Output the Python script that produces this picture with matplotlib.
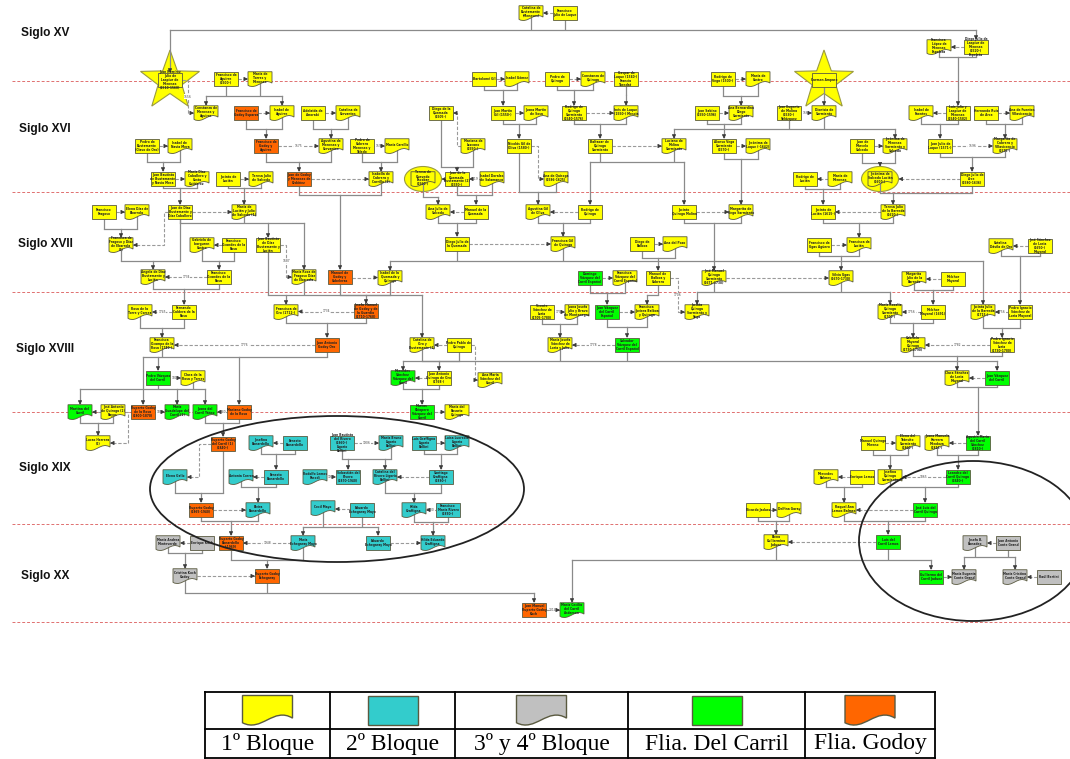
import textwrap
import numpy as np
import matplotlib
matplotlib.use("Agg")
import matplotlib.pyplot as plt
from matplotlib.patches import Rectangle, Ellipse, Polygon, PathPatch
from matplotlib.path import Path

# ---------------------------------------------------------------- data
century_labels = ["Siglo XV", "Siglo XVI", "Siglo XVII", "Siglo XVIII", "Siglo XIX", "Siglo XX"]
century_label_y = [33, 129, 244, 349, 468, 576]
century_line_y = [81, 192, 292, 412, 524, 622]

legend_labels = ["1º Bloque", "2º Bloque", "3º y 4º Bloque", "Flia. Del Carril", "Flia. Godoy"]
legend_groups = ["y", "c", "s", "g", "o"]
legend_shapes = ["d", "r", "d", "r", "d"]

group_colors = {"y": "#FFFF00", "c": "#33CCCC", "s": "#C0C0C0", "g": "#00FF00", "o": "#FF6600"}

node_names = {
    'A1': 'Catalina de Bustamante (Meneses)', 'A2': 'Francisco Julio de Luque',
    'F2': 'Francisca López de Meneses Espeleta', 'F1': 'Diego Julio de Laspiur de Meneses (1520-) Espeleta',
    'T1': 'Juan Ramírez Julio de Laspiur de Meneses (1510-1560)',
    'B1': 'Francisco de Aguirre (1500-)', 'B2': 'María de Torres y Meneses', 'B3': 'Bartolomé Gil',
    'B4': 'Isabel Gómez', 'B5': 'Pedro de Quiroga', 'B6': 'Constanza de Quiroga',
    'B7': 'Gaspar de Luque (1540-) Francia Tuesdat', 'B8': 'Rodrigo de Vega (1500-)', 'B9': 'María de Castro',
    'T2': 'Carmen Amparo',
    'C1': 'Constanza de Meneses y Aguirre', 'C2': 'Francisco de Godoy Esparza', 'C3': 'Isabel de Aguirre',
    'C4': 'Adelaida de Amorabi', 'C5': 'Catalina de Cervantes', 'C6': 'Diego de la Quemada (1505-)',
    'C7': 'Juan Martín Gil (1550-)', 'C8': 'Juana Martín de Sosa',
    'C9': 'Rodrigo de Quiroga Sarmiento (1540-1576)', 'C10': 'Inés de Luque (1550-) Mescia',
    'C11': 'Juan Sabino (1550-1596)', 'C12': 'Ana Bernardina Diego Sarmiento',
    'C13': 'Juan Eugenio de Molina (1530-) Velázquez', 'C14': 'Dionisia de Sarmiento',
    'C15': 'Isabel de Fuentes', 'C16': 'Luis Julio y Laspiur de Meneses (1540-1582)',
    'C17': 'Hernando Ruiz de Arce', 'C18': 'Ana de Fuentes Villavicencio',
    'D1': 'Pedro de Bustamante (Clavo de Oro)', 'D2': 'Isabel de Navia Mera',
    'D3': 'Francisco de Godoy y Aguirre', 'D4': 'Agustina de Meneses y Cervantes',
    'D5': 'Pedro de Cabrera Meneses y Toledo', 'D6': 'María Carrillo', 'D7': 'Mariana de Lezcano (1550-)',
    'D8': 'Nicolás Gil de Oliva (1580-)', 'D9': 'Baltasar de Quiroga Sarmiento',
    'D10': 'Luciano de Molina Sarmiento', 'D11': 'Alonso Vega Sarmiento (1570-)',
    'D12': 'Jerónima de Luque (-1642)', 'D13': 'Juan de Marcelo Salcedo',
    'D14': 'Jerónima de Meneses Sarmiento y Salcedo', 'D15': 'Juan Julio de Luque (1571-)',
    'D16': 'Margarita de Cabrera y Villavicencio (1575-)',
    'E1': 'Juan Bautista de Bustamante y Navia Mera', 'E2': 'María Díaz Caballero y Costa Gutiérrez',
    'E3': 'Jacinto de Lucián', 'E4': 'Teresa Julio de Salcedo', 'E0': 'Juan de Godoy y Meneses de Ordóñez',
    'E6': 'Isabella de Cabrera y Carrillo (2)', 'E7': 'Teresa de Quevedo Escobar (1560-)',
    'E5': 'Juan de la Quemada Bustamante (2) (1590-)', 'E8': 'Isabel Dorales de Salamanca',
    'E9': 'Ana de Quiroga (1586-1625)', 'E10': 'Rodrigo de Lucián', 'E11': 'María de Meneses',
    'E12': 'Jerónima de Salcedo Lucián (1600-)', 'E13': 'Diego Julio de Arce (1580-1636)',
    'G1': 'Francisco Fragoso', 'G2': 'Elena Díaz de Ebarrola',
    'G3': 'Juan de Díaz Bustamante y Díaz Caballero', 'G4': 'María de Lucián y Julio de Salcedo (1)',
    'G5': 'Ana Julio de Salcedo', 'G6': 'Manuel de la Quemada', 'G7': 'Agustina Gil de Oliva',
    'G8': 'Rodrigo de Quiroga', 'G9': 'Jacinto Quiroga Molina', 'G10': 'Margarita de Vega Sarmiento',
    'G11': 'Jacinto de Lucián (1615-)', 'G12': 'Teresa Julio de la Barreda (1620-)',
    'H1': 'Francisca de Fragoso y Díaz de Ebarrola (2)', 'H2': 'Gabriela de Ibarguren Castro',
    'H3': 'Francisco Ocandes de la Rosa', 'H5': 'Juan Bautista de Díaz Bustamante y Lucián',
    'H6': 'Diego Julio de la Quemada', 'H7': 'Francisca Gil de Quiroga', 'H8': 'Diego de Balboa',
    'H9': 'Ana del Pozo', 'H10': 'Francisco de Ugas Agüero', 'H11': 'Francisca de Lucián',
    'H12': 'Catalina Dávila de Oro', 'H13': 'José Sánchez de Loria (1650-) Mayoral',
    'I1': 'Angela de Díaz Bustamante y Lucián', 'I2': 'Francisco Ocandes de la Rosa',
    'I3': 'María Rosa de Fragoso Díaz de Ebarrola', 'I0': 'Manuel de Godoy y Cabeleras',
    'I4': 'Isabel de la Quemada y Quiroga', 'I5': 'Domingo Vázquez del Carril Español',
    'I6': 'Francisca Vázquez del Carril Español', 'I7': 'Manuel de Balboa y Cabrera',
    'I8': 'José Manuel Quiroga Sarmiento (1671-1730)', 'I9': 'Silvia Ugas (1670-1730)',
    'I10': 'Margarita Julio de la Barreda', 'I11': 'Melchor Mayoral',
    'J1': 'Rosa de la Torre y Correa', 'J2': 'Fernando Caldera de la Rosa', 'J3': 'Francisca de Oro (1712-)',
    'J0': 'Josefa Manuel de Godoy y de la Guardia (1710-1760)', 'J4': 'Vicente Sánchez de Loria (1705-1780)',
    'J5': 'Juana Josefa Julio y Bravo de Montenegro', 'J6': 'Juan Vázquez del Carril Español',
    'J7': 'Francisca Javiera Balboa y Quiroga', 'J8': 'Jacinta Quiroga Sarmiento y Vega',
    'J9': 'María Rosalía Quiroga Sarmiento (1700-)', 'J10': 'Melchor Mayoral (1691)',
    'J11': 'Jacinta Julio de la Barreda (1715-)', 'J12': 'Pedro Ignacio Sánchez de Loria Mayoral',
    'K1': 'Francisca Ocampo de la Rosa (1740-)', 'K0': 'Juan Antonio Godoy Oro',
    'K2': 'Catalina de Oro y Bustamante (1)', 'K3': 'Pedro Pablo de Quiroga',
    'K4': 'María Josefa Sánchez de Loria y Julio', 'K5': 'Salvador Vázquez del Carril Español',
    'K6': 'Gabriela Mayoral Quiroga (1730-1790)', 'K7': 'Pedro Ignacio Sánchez de Loria (1730-1780)',
    'L1': 'Pedro Vázquez del Carril', 'L8': 'Clara de la Rosa y Torres',
    'L2': 'Mercedes Sánchez Vázquez del Carril', 'L3': 'Juan Antonio Quiroga de Oro (1768-)',
    'L5': 'Ana María Sánchez del Carril', 'L6': 'Clara Sánchez de Loria Mayoral', 'L7': 'Juan Vázquez del Carril',
    'M1': 'Martina del Carril', 'M2': 'José Antonio de Quiroga (2) Rayos',
    'M3': 'Ruperto Godoy de la Rosa (1800-1870)', 'M4': 'María Guadalupe del Carril (1)',
    'M5': 'Juana del Carril Yáñez', 'M6': 'Mariano Godoy de la Rosa',
    'M7': 'Marcos Chiapero Vázquez del Carril', 'M8': 'María del Rosario Quiroga',
    'N1': 'Lucas Herrera (2)', 'N2': 'Ruperto Godoy del Carril (1) (1840-)', 'N3': 'Josefina Bonardello',
    'N4': 'Ernesto Bonardello', 'N5': 'Juan Bautista del Rivero (1860-) Ligorio Bellini',
    'N6': 'María Bruno Ligorio Bellini', 'N7': 'Luis Graffigna Ligorio Bellini',
    'N8': 'Luisa Lucrecia Ligorio Bellini', 'N9': 'Manuel Quiroga Moreno',
    'N10': 'Elena del Tránsito Sarmiento (1860-)', 'N11': 'Juana Manuela Herrera Mendoza (1815-)',
    'N12': 'Agustín María del Carril Sánchez (1810-)',
    'O1': 'Elena Gallo', 'O2': 'Antonia Correa', 'O3': 'Ernesto Bonardello', 'O4': 'Rodolfo Lemos Parodi',
    'O6': 'Sebastián del Rivero (1870-1940)', 'O7': 'Catalina del Rivero Ligorio Bellini',
    'O8': 'Santiago Graffigna (1880-)', 'O9': 'Mercedes Balmes', 'O10': 'Enrique Lemos',
    'O11': 'Josefina Quiroga Sarmiento', 'O12': 'Leandro del Carril Quiroga (1840-)',
    'P1': 'Ruperto Godoy (1865-1940)', 'P2': 'Elvira Bonardello', 'P3': 'Cecil Mayo',
    'P4': 'Eduardo Echegaray Mayo', 'P5': 'Hilda Graffigna', 'P6': 'Francisco María Rivero (1890-)',
    'P7': 'Ricardo Jaduez', 'P8': 'Delfina Garay', 'P9': 'Raquel Ana Lemos Balmes',
    'P10': 'José Luis del Carril Quiroga',
    'Q1': 'María Andrea Monteverde', 'Q2': 'Enrique Koch', 'Q3': 'Ruperto Godoy Bonardello (-1969)',
    'Q4': 'María Echegaray Mayo', 'Q5': 'Eduardo Echegaray Mayo', 'Q6': 'Hilda Eduardo Graffigna',
    'Q7': 'Elena Guillermina Jaduez', 'Q8': 'Luis del Carril Lemos', 'Q9': 'Josefa B. Bonadeo',
    'Q10': 'Juan Antonio Conte Grand',
    'R1': 'Cristina Koch Godoy', 'R2': 'Ruperto Godoy Echegaray', 'R5': 'Guillermo del Carril Jaduez',
    'R6': 'María Eugenia Conte Grand', 'R7': 'María Cristina Conte Grand', 'R8': 'Raúl Bertini',
    'S3': 'Juan Manuel Ruperto Godoy Koch', 'S4': 'María Cecilia del Carril Anderson',
}

# kind = shape (r = box, d = document) + group letter
node_kind = {
    'A1': 'dy', 'A2': 'ry', 'F2': 'dy', 'F1': 'ry', 'T1': 'ry',
    'B1': 'ry', 'B2': 'dy', 'B3': 'ry', 'B4': 'dy', 'B5': 'ry', 'B6': 'dy', 'B7': 'ry', 'B8': 'ry',
    'B9': 'dy', 'T2': 'ry',
    'C1': 'dy', 'C2': 'ro', 'C3': 'dy', 'C4': 'ry', 'C5': 'dy', 'C6': 'ry', 'C7': 'ry', 'C8': 'dy',
    'C9': 'ry', 'C10': 'dy', 'C11': 'ry', 'C12': 'dy', 'C13': 'ry', 'C14': 'dy', 'C15': 'dy',
    'C16': 'ry', 'C17': 'ry', 'C18': 'dy',
    'D1': 'ry', 'D2': 'dy', 'D3': 'ro', 'D4': 'dy', 'D5': 'ry', 'D6': 'dy', 'D7': 'dy', 'D8': 'ry',
    'D9': 'ry', 'D10': 'dy', 'D11': 'ry', 'D12': 'dy', 'D13': 'ry', 'D14': 'dy', 'D15': 'ry', 'D16': 'dy',
    'E1': 'ry', 'E2': 'dy', 'E3': 'ry', 'E4': 'dy', 'E0': 'ro', 'E6': 'dy', 'E7': 'dy', 'E5': 'ry',
    'E8': 'dy', 'E9': 'dy', 'E10': 'ry', 'E11': 'dy', 'E12': 'dy', 'E13': 'ry',
    'G1': 'ry', 'G2': 'dy', 'G3': 'ry', 'G4': 'dy', 'G5': 'dy', 'G6': 'ry', 'G7': 'dy', 'G8': 'ry',
    'G9': 'ry', 'G10': 'dy', 'G11': 'ry', 'G12': 'dy',
    'H1': 'dy', 'H2': 'dy', 'H3': 'ry', 'H5': 'ry', 'H6': 'ry', 'H7': 'dy', 'H8': 'ry', 'H9': 'dy',
    'H10': 'ry', 'H11': 'dy', 'H12': 'dy', 'H13': 'ry',
    'I1': 'dy', 'I2': 'ry', 'I3': 'dy', 'I0': 'ro', 'I4': 'dy', 'I5': 'rg', 'I6': 'dy', 'I7': 'ry',
    'I8': 'dy', 'I9': 'dy', 'I10': 'dy', 'I11': 'ry',
    'J1': 'dy', 'J2': 'ry', 'J3': 'dy', 'J0': 'ro', 'J4': 'ry', 'J5': 'dy', 'J6': 'rg', 'J7': 'dy',
    'J8': 'dy', 'J9': 'dy', 'J10': 'ry', 'J11': 'dy', 'J12': 'ry',
    'K1': 'dy', 'K0': 'ro', 'K2': 'dy', 'K3': 'ry', 'K4': 'dy', 'K5': 'rg', 'K6': 'dy', 'K7': 'ry',
    'L1': 'rg', 'L8': 'dy', 'L2': 'dg', 'L3': 'ry', 'L5': 'dy', 'L6': 'dy', 'L7': 'rg',
    'M1': 'dg', 'M2': 'dy', 'M3': 'ro', 'M4': 'dg', 'M5': 'dg', 'M6': 'ro', 'M7': 'rg', 'M8': 'dy',
    'N1': 'dy', 'N2': 'ro', 'N3': 'dc', 'N4': 'rc', 'N5': 'rc', 'N6': 'dc', 'N7': 'rc', 'N8': 'dc',
    'N9': 'ry', 'N10': 'dy', 'N11': 'dy', 'N12': 'rg',
    'O1': 'dc', 'O2': 'dc', 'O3': 'rc', 'O4': 'dc', 'O6': 'rc', 'O7': 'dc', 'O8': 'rc', 'O9': 'dy',
    'O10': 'ry', 'O11': 'dy', 'O12': 'rg',
    'P1': 'ro', 'P2': 'dc', 'P3': 'dc', 'P4': 'rc', 'P5': 'dc', 'P6': 'rc', 'P7': 'ry', 'P8': 'dy',
    'P9': 'dy', 'P10': 'rg',
    'Q1': 'ds', 'Q2': 'rs', 'Q3': 'ro', 'Q4': 'dc', 'Q5': 'rc', 'Q6': 'dc', 'Q7': 'dy', 'Q8': 'rg',
    'Q9': 'ds', 'Q10': 'rs',
    'R1': 'ds', 'R2': 'ro', 'R5': 'rg', 'R6': 'ds', 'R7': 'ds', 'R8': 'rs',
    'S3': 'ro', 'S4': 'dg',
}

# layout of the original diagram (pixel grid of the picture)
node_xy = {
    'A1': (531, 13), 'A2': (565, 13), 'F2': (939, 47), 'F1': (976, 47), 'T1': (170, 80),
    'B1': (226, 79), 'B2': (260, 79), 'B3': (484, 79), 'B4': (517, 79), 'B5': (557, 79), 'B6': (593, 79),
    'B7': (626, 79), 'B8': (723, 79), 'B9': (758, 79), 'T2': (824, 80),
    'C1': (206, 113), 'C2': (246, 113), 'C3': (282, 113), 'C4': (313, 113), 'C5': (348, 113),
    'C6': (441, 113), 'C7': (503, 113), 'C8': (536, 113), 'C9': (574, 113), 'C10': (626, 113),
    'C11': (707, 113), 'C12': (741, 113), 'C13': (789, 113), 'C14': (824, 113), 'C15': (921, 113),
    'C16': (958, 113), 'C17': (986, 113), 'C18': (1022, 113),
    'D1': (147, 146), 'D2': (180, 146), 'D3': (266, 146), 'D4': (331, 146), 'D5': (362, 146),
    'D6': (397, 146), 'D7': (473, 146), 'D8': (519, 146), 'D9': (600, 146), 'D10': (674, 146),
    'D11': (724, 146), 'D12': (758, 146), 'D13': (862, 146), 'D14': (895, 146), 'D15': (940, 146),
    'D16': (1005, 146),
    'E1': (163, 179), 'E2': (197, 179), 'E3': (228, 179), 'E4': (261, 179), 'E0': (299, 179),
    'E6': (381, 179), 'E7': (423, 179), 'E5': (457, 179), 'E8': (492, 179), 'E9': (556, 179),
    'E10': (805, 179), 'E11': (840, 179), 'E12': (880, 179), 'E13': (972, 179),
    'G1': (104, 212), 'G2': (137, 212), 'G3': (180, 212), 'G4': (244, 212), 'G5': (438, 212),
    'G6': (476, 212), 'G7': (538, 212), 'G8': (590, 212), 'G9': (684, 212), 'G10': (741, 212),
    'G11': (823, 212), 'G12': (893, 212),
    'H1': (121, 245), 'H2': (202, 245), 'H3': (234, 245), 'H5': (268, 245), 'H6': (457, 244),
    'H7': (563, 244), 'H8': (642, 244), 'H9': (675, 244), 'H10': (819, 245), 'H11': (859, 245),
    'H12': (1001, 246), 'H13': (1040, 246),
    'I1': (153, 277), 'I2': (219, 277), 'I3': (304, 277), 'I0': (340, 277), 'I4': (390, 278),
    'I5': (590, 278), 'I6': (625, 278), 'I7': (658, 278), 'I8': (714, 278), 'I9': (841, 278),
    'I10': (914, 279), 'I11': (953, 279),
    'J1': (140, 312), 'J2': (184, 312), 'J3': (286, 312), 'J0': (366, 311), 'J4': (542, 312),
    'J5': (577, 312), 'J6': (607, 312), 'J7': (647, 312), 'J8': (697, 312), 'J9': (890, 312),
    'J10': (933, 312), 'J11': (983, 312), 'J12': (1020, 312),
    'K1': (162, 345), 'K0': (327, 345), 'K2': (422, 345), 'K3': (459, 345), 'K4': (560, 345),
    'K5': (627, 345), 'K6': (913, 345), 'K7': (1002, 345),
    'L1': (158, 378), 'L8': (193, 378), 'L2': (403, 378), 'L3': (439, 378), 'L5': (490, 380),
    'L6': (957, 378), 'L7': (997, 378),
    'M1': (80, 412), 'M2': (113, 412), 'M3': (143, 412), 'M4': (177, 412), 'M5': (205, 412),
    'M6': (239, 412), 'M7': (422, 412), 'M8': (457, 412),
    'N1': (98, 443), 'N2': (223, 444), 'N3': (261, 443), 'N4': (295, 443), 'N5': (342, 443),
    'N6': (391, 443), 'N7': (424, 443), 'N8': (457, 443), 'N9': (873, 443), 'N10': (908, 443),
    'N11': (937, 443), 'N12': (978, 443),
    'O1': (175, 477), 'O2': (241, 477), 'O3': (276, 477), 'O4': (315, 477), 'O6': (348, 477),
    'O7': (385, 477), 'O8': (441, 477), 'O9': (826, 477), 'O10': (862, 477), 'O11': (890, 477),
    'O12': (958, 477),
    'P1': (201, 510), 'P2': (258, 510), 'P3': (323, 508), 'P4': (362, 510), 'P5': (414, 510),
    'P6': (448, 510), 'P7': (758, 510), 'P8': (789, 510), 'P9': (844, 510), 'P10': (925, 510),
    'Q1': (168, 543), 'Q2': (202, 543), 'Q3': (231, 543), 'Q4': (303, 543), 'Q5': (378, 543),
    'Q6': (433, 543), 'Q7': (776, 542), 'Q8': (888, 542), 'Q9': (975, 543), 'Q10': (1008, 543),
    'R1': (185, 576), 'R2': (267, 576), 'R5': (931, 577), 'R6': (964, 577), 'R7': (1015, 577),
    'R8': (1049, 577),
    'S3': (534, 610), 'S4': (572, 610),
}

star_nodes = ['T1', 'T2']
circled_nodes = ['E7', 'E12']

# marriages: (from, to) -> dashed arrow
marriages = [
    ('A2', 'A1'), ('F1', 'F2'), ('B1', 'B2'), ('B3', 'B4'), ('B5', 'B6'), ('B8', 'B9'),
    ('T1', 'C1'), ('C2', 'C3'), ('C4', 'C5'), ('C7', 'C8'), ('C9', 'C10'), ('C11', 'C12'),
    ('C13', 'C14'), ('C16', 'C15'), ('C17', 'C18'),
    ('D1', 'D2'), ('D3', 'D4'), ('D5', 'D6'), ('D7', 'C6'), ('D9', 'D10'), ('D11', 'D12'),
    ('D13', 'D14'), ('D15', 'D16'),
    ('E1', 'E2'), ('E3', 'E4'), ('E0', 'E6'), ('E5', 'E7'), ('E8', 'E5'), ('D8', 'E9'),
    ('E11', 'E10'), ('E13', 'E12'),
    ('G1', 'G2'), ('G3', 'G4'), ('G3', 'H1'), ('G6', 'G5'), ('G8', 'G7'), ('G9', 'G10'), ('G12', 'G11'),
    ('H3', 'H2'), ('H6', 'H7'), ('H8', 'H9'), ('H10', 'H11'), ('H13', 'H12'), ('H5', 'I3'),
    ('I2', 'I1'), ('I0', 'I4'), ('I5', 'I6'), ('I8', 'I9'), ('I11', 'I10'), ('I7', 'J8'),
    ('J2', 'J1'), ('J0', 'J3'), ('J4', 'J5'), ('J6', 'J7'), ('J10', 'J9'), ('J12', 'J11'),
    ('K0', 'K1'), ('K3', 'K2'), ('K3', 'L5'), ('K5', 'K4'), ('K7', 'K6'),
    ('L1', 'L8'), ('L3', 'L2'), ('L7', 'L6'),
    ('M2', 'M1'), ('M3', 'M4'), ('M6', 'M5'), ('M7', 'M8'), ('M2', 'N1'),
    ('N4', 'N3'), ('N5', 'N6'), ('N7', 'N8'), ('N9', 'N10'), ('N12', 'N11'), ('N2', 'O1'),
    ('O3', 'O2'), ('O4', 'O6'), ('O8', 'O7'), ('O10', 'O9'), ('O12', 'O11'),
    ('P1', 'P2'), ('P4', 'P3'), ('P6', 'P5'), ('P7', 'P8'), ('P10', 'P9'),
    ('Q2', 'Q1'), ('Q4', 'Q3'), ('Q5', 'Q6'), ('Q8', 'Q7'), ('Q10', 'Q9'),
    ('R1', 'R2'), ('R5', 'R6'), ('R8', 'R7'),
    ('S3', 'S4'),
]
marriage_labels = {
    ('T1', 'C1'): '1556', ('C13', 'C14'): '1561', ('D3', 'D4'): '1575', ('D15', 'D16'): '1596',
    ('E8', 'E5'): '1619', ('H5', 'I3'): '1687', ('I2', 'I1'): '1734', ('J2', 'J1'): '1745',
    ('J0', 'J3'): '1734', ('J4', 'J5'): '1735', ('J10', 'J9'): '1756', ('J12', 'J11'): '1756',
    ('K0', 'K1'): '1776', ('K5', 'K4'): '1778', ('K7', 'K6'): '1782', ('L1', 'L8'): '1800',
    ('M3', 'M4'): '1834', ('M6', 'M5'): '1840', ('N5', 'N6'): '1906', ('O4', 'O6'): '1901',
    ('O12', 'O11'): '1865', ('P6', 'P5'): '1930', ('Q4', 'Q3'): '1948', ('S3', 'S4'): '2014',
    ('D5', 'D6'): '1590', ('I7', 'J8'): '1706',
}
marriage_route_x = {('G3', 'H1'): 164, ('M2', 'N1'): 128}

# families: (parents, children, level of the joining line)
families = [
    (('A1', 'A2'), ('T1', 'F1'), 30), (('F1', 'F2'), ('C16',), 57),
    (('B1', 'B2'), ('C1', 'C3'), 96), (('B3', 'B4'), ('C7',), 90), (('B5', 'B6'), ('C9',), 90),
    (('B7',), ('C10',), 95), (('B8', 'B9'), ('C12',), 96), (('T2',), ('C14',), 97),
    (('C2', 'C3'), ('D3',), 129), (('C4', 'C5'), ('D4',), 129), (('C7', 'C8'), ('D8',), 124),
    (('C9', 'C10'), ('D9',), 124), (('C11', 'C12'), ('D11',), 124), (('C13', 'C14'), ('D10', 'D14'), 129),
    (('C15', 'C16'), ('D15',), 124), (('C17', 'C18'), ('D16',), 124),
    (('C6', 'D7'), ('E5',), 167), (('D1', 'D2'), ('E1',), 162), (('D3', 'D4'), ('E0',), 162),
    (('D5', 'D6'), ('E6',), 162), (('D9', 'D10'), ('G8', 'G9'), 162), (('D11', 'D12'), ('G10',), 159),
    (('D13', 'D14'), ('E12',), 163), (('D15', 'D16'), ('E13',), 157), (('D8', 'E9'), ('G7',), 192),
    (('E1', 'E2'), ('G3',), 188), (('E3', 'E4'), ('G4',), 188), (('E0', 'E6'), ('I0',), 195),
    (('E5', 'E8'), ('G6',), 195), (('E7',), ('G5',), 197), (('E10', 'E11'), ('G11',), 189),
    (('E12', 'E13'), ('G12',), 193),
    (('G1', 'G2'), ('H1',), 229), (('G3', 'H1'), ('I1',), 261), (('G3', 'G4'), ('H5', 'I3'), 223),
    (('G5', 'G6'), ('H6',), 223), (('G7', 'G8'), ('H7',), 223), (('G9', 'G10'), ('I8',), 223),
    (('G11', 'G12'), ('H11',), 223),
    (('H2', 'H3'), ('I2',), 261), (('H6', 'H7'), ('I4', 'J11'), 261), (('H8', 'H9'), ('I7',), 258),
    (('H10', 'H11'), ('I9',), 256), (('H12', 'H13'), ('J12',), 256),
    (('I1', 'I2'), ('J2',), 289), (('H5', 'I3'), ('J3', 'K2'), 295), (('I0', 'I4'), ('J0',), 295),
    (('I5', 'I6'), ('J6',), 293), (('I7',), ('J7',), 295), (('I8', 'I9'), ('J8', 'J9'), 292),
    (('I10', 'I11'), ('J10',), 290),
    (('J1', 'J2'), ('K1',), 328), (('J0', 'J3'), ('K0',), 323), (('J4', 'J5'), ('K4',), 324),
    (('J6', 'J7'), ('K5',), 327), (('J9', 'J10'), ('K6',), 323), (('J11', 'J12'), ('K7',), 328),
    (('K0', 'K1'), ('L1', 'M3', 'M6'), 357), (('K2', 'K3'), ('L3',), 361),
    (('K4', 'K5'), ('L2', 'L7'), 361), (('K6', 'K7'), ('L6',), 356),
    (('L1', 'L8'), ('M1', 'M4', 'M5'), 389), (('L2', 'L3'), ('M7',), 389), (('L6', 'L7'), ('N12',), 387),
    (('M1', 'M2'), ('N1',), 423), (('M5', 'M6'), ('N2',), 423),
    (('N3', 'N4'), ('O3',), 454), (('N5', 'N6'), ('O6', 'O7'), 459), (('N7', 'N8'), ('O8',), 454),
    (('N9', 'N10'), ('O11',), 455), (('N11', 'N12'), ('O12',), 455),
    (('N2', 'O1'), ('P1',), 493), (('O2', 'O3'), ('P2',), 487), (('O7', 'O8'), ('P5',), 493),
    (('O9', 'O10'), ('P9',), 487), (('O11', 'O12'), ('P10',), 487),
    (('P1', 'P2'), ('Q3',), 521), (('P3', 'P4'), ('Q4', 'Q5'), 527), (('P5', 'P6'), ('Q6',), 522),
    (('P7', 'P8'), ('Q7',), 521), (('P9', 'P10'), ('Q8',), 521),
    (('Q1', 'Q2'), ('R1',), 553), (('Q3', 'Q4'), ('R2',), 560), (('Q7', 'Q8'), ('R5', 'S4'), 560),
    (('Q9', 'Q10'), ('R6', 'R7'), 557),
    (('R1', 'R2'), ('S3',), 593),
]

# ---------------------------------------------------------------- drawing
W, H = 1070, 759
BW, BH = 24, 14.5
LINE = '#8a8a8a'
EDGE = '#5a5a40'
HEAD = '#3a3a3a'

fig = plt.figure(figsize=(W / 100, H / 100), dpi=100)
ax = fig.add_axes([0, 0, 1, 1])
ax.set_xlim(0, W)
ax.set_ylim(H, 0)
ax.axis('off')


def doc_path(x, y, w, h):
    x0, x1 = x - w / 2, x + w / 2
    yt, yb = y - h / 2, y + h / 2
    verts = [(x0, yt), (x1, yt), (x1, yb - 0.22 * h),
             (x0 + 0.62 * w, yb - 0.62 * h), (x0 + 0.38 * w, yb + 0.28 * h), (x0, yb - 0.06 * h),
             (x0, yt)]
    codes = [Path.MOVETO, Path.LINETO, Path.LINETO, Path.CURVE4, Path.CURVE4, Path.CURVE4,
             Path.CLOSEPOLY]
    return Path(verts, codes)


def shape_patch(x, y, w, h, shape, color, lw=0.6, z=4):
    if shape == 'r':
        return Rectangle((x - w / 2, y - h / 2), w, h, fc=color, ec=EDGE, lw=lw, zorder=z)
    return PathPatch(doc_path(x, y, w, h), fc=color, ec=EDGE, lw=lw, zorder=z)


def half_w(k):
    return 18.5 if k in circled_nodes else BW / 2


def top_y(k):
    return node_xy[k][1] - (12.5 if k in circled_nodes else BH / 2)


def head(x, y, dx, dy):
    ax.annotate('', xy=(x, y), xytext=(x - 3 * dx, y - 3 * dy),
                arrowprops=dict(arrowstyle='-|>', color=HEAD, lw=0.5, mutation_scale=6,
                                shrinkA=0, shrinkB=0), zorder=3.6)


# century bands
for lab, yy in zip(century_labels, century_label_y):
    ax.text(45, yy, lab, ha='center', va='center', fontsize=8.6, fontweight='bold',
            family='Liberation Sans', color='#111111')
for yy in century_line_y:
    ax.plot([12, W], [yy, yy], color='#e07070', lw=0.7, ls=(0, (3, 2)), zorder=1)

# stars and small circles
for k in star_nodes:
    cx, cy = node_xy[k][0], node_xy[k][1] + 1
    pts = []
    for i in range(10):
        ang = -np.pi / 2 + i * np.pi / 5
        rad = 31 if i % 2 == 0 else 12.5
        pts.append((cx + rad * np.cos(ang), cy + rad * np.sin(ang)))
    ax.add_patch(Polygon(pts, closed=True, fc='#FFFF00', ec='#9a9a40', lw=0.8, zorder=2))
for k in circled_nodes:
    cx, cy = node_xy[k]
    ax.add_patch(Ellipse((cx, cy), 37, 25, fc='#FFFF00', ec='#9a9a40', lw=0.8, zorder=2))

# family connectors
for parents, children, yb in families:
    xs = [node_xy[p][0] for p in parents] + [node_xy[c][0] for c in children]
    for p in parents:
        px, py = node_xy[p]
        ax.plot([px, px], [py, yb], color=LINE, lw=0.9, zorder=3, solid_capstyle='butt')
    ax.plot([min(xs), max(xs)], [yb, yb], color=LINE, lw=0.9, zorder=3)
    for c in children:
        cx = node_xy[c][0]
        ty = top_y(c)
        ax.plot([cx, cx], [yb, ty - 2], color=LINE, lw=0.9, zorder=3)
        head(cx, ty, 0, 1)

# marriage connectors
for a, b in marriages:
    xa, ya = node_xy[a]
    xb, yb = node_xy[b]
    if abs(ya - yb) < 4 and (a, b) not in marriage_route_x:
        yy = (ya + yb) / 2
        sx = xa + half_w(a) if xb > xa else xa - half_w(a)
        ex = xb - half_w(b) if xb > xa else xb + half_w(b)
        pts = [(sx, yy), (ex, yy)]
    else:
        rx = marriage_route_x.get((a, b), (xa + xb) / 2)
        sx = xa + half_w(a) if rx > xa else xa - half_w(a)
        ex = xb + half_w(b) if rx > xb else xb - half_w(b)
        pts = [(sx, ya), (rx, ya), (rx, yb), (ex, yb)]
    px = [p[0] for p in pts]
    py = [p[1] for p in pts]
    ax.plot(px, py, color='#9a9a9a', lw=0.8, ls=(0, (3, 1.6)), zorder=3.2)
    (x1, y1), (x2, y2) = pts[-2], pts[-1]
    d = np.hypot(x2 - x1, y2 - y1) or 1.0
    head(x2, y2, (x2 - x1) / d, (y2 - y1) / d)
    lab = marriage_labels.get((a, b))
    if lab:
        segs = list(zip(pts[:-1], pts[1:]))
        s = max(segs, key=lambda s: np.hypot(s[1][0] - s[0][0], s[1][1] - s[0][1]))
        ax.text((s[0][0] + s[1][0]) / 2, (s[0][1] + s[1][1]) / 2, lab, fontsize=2.2,
                ha='center', va='center', color='#444444', zorder=3.4,
                bbox=dict(fc='white', ec='none', pad=0.2))

# nodes
for k, name in node_names.items():
    x, y = node_xy[k]
    shape, grp = node_kind[k][0], node_kind[k][1]
    ax.add_patch(shape_patch(x, y, BW, BH, shape, group_colors[grp]))
    ax.text(x, y - (1 if shape == 'd' else 0), textwrap.fill(name, 14), fontsize=2.1,
            ha='center', va='center', color='#222222', linespacing=0.95, zorder=5,
            fontweight='bold')

# big ellipses around 2nd block and Del Carril branch
ax.add_patch(Ellipse((337, 489), 374, 146, fill=False, ec='#222222', lw=1.3, zorder=5))
ax.add_patch(Ellipse((973, 541), 228, 160, fill=False, ec='#222222', lw=1.3, zorder=5))

# legend table
cell_x = [205, 330, 455, 628, 805, 935]
row_y = [692, 729, 758]
for yy in row_y:
    ax.plot([cell_x[0], cell_x[-1]], [yy, yy], color='black', lw=1.3, zorder=6,
            solid_capstyle='projecting')
for xx in cell_x:
    ax.plot([xx, xx], [row_y[0], row_y[-1]], color='black', lw=1.3, zorder=6,
            solid_capstyle='projecting')
for i, (lab, grp, shp) in enumerate(zip(legend_labels, legend_groups, legend_shapes)):
    cx = (cell_x[i] + cell_x[i + 1]) / 2
    ax.add_patch(shape_patch(cx, 710, 50, 29, shp, group_colors[grp], lw=1.0, z=6))
    ax.text(cx, 744, lab, ha='center', va='center', fontsize=17, family='Liberation Serif',
            color='black', zorder=6)

fig.savefig('out.png', dpi=100, facecolor='white')
